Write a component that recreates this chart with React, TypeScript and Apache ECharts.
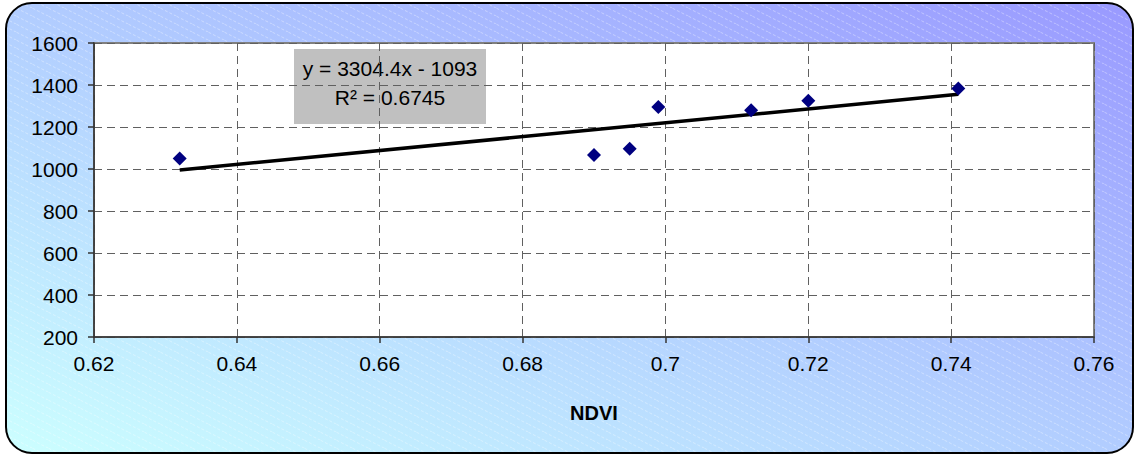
import React, { useEffect, useRef } from "react";
import * as echarts from "echarts";

// NDVI against yield, with the fitted linear trend
const NDVI = [0.632, 0.69, 0.695, 0.699, 0.712, 0.72, 0.741];
const VALUES = [1050, 1067, 1097, 1295, 1280, 1325, 1383];

// Linear fit reported on the chart
const SLOPE = 3304.4;
const INTERCEPT = -1093;
const R_SQUARED = 0.6745;

const X_MIN = 0.62;
const X_MAX = 0.76;
const X_STEP = 0.02;
const Y_MIN = 200;
const Y_MAX = 1600;
const Y_STEP = 200;

const FONT = "'Liberation Sans', Arial, sans-serif";

// faint white diagonal dashes tiled over the chart background
const STRIPE_TILE =
  "data:image/svg+xml;utf8," +
  encodeURIComponent(
    "<svg xmlns='http://www.w3.org/2000/svg' width='16' height='8'>" +
      "<path d='M-4 -2 L20 10 M-4 6 L4 10 M12 -2 L20 2' stroke='#ffffff' stroke-opacity='0.35' stroke-width='1' stroke-dasharray='3 2' fill='none'/>" +
      "</svg>"
  );

export default function App() {
  const ref = useRef<HTMLDivElement>(null);

  useEffect(() => {
    document.body.style.margin = "0";
    if (!ref.current) return;
    const chart = echarts.init(ref.current, null, { renderer: "svg" });

    const xs = [Math.min(...NDVI), Math.max(...NDVI)];
    const trend = xs.map((x) => [x, SLOPE * x + INTERCEPT]);
    const points = NDVI.map((x, i) => [x, VALUES[i]]);

    const eqText = `y = ${SLOPE}x ${INTERCEPT < 0 ? "-" : "+"} ${Math.abs(INTERCEPT)}`;
    const r2Text = `R\u00B2 = ${R_SQUARED}`;

    chart.setOption({
      animation: false,
      backgroundColor: "transparent",
      textStyle: { fontFamily: FONT },
      grid: {
        left: 94,
        top: 43,
        right: 41,
        bottom: 118,
        show: true,
        backgroundColor: "#ffffff",
        borderColor: "#808080",
        borderWidth: 2,
      },
      graphic: [
        {
          type: "rect",
          z: -10,
          shape: { x: 6, y: 3, width: 1127, height: 450, r: 26 },
          style: {
            fill: new echarts.graphic.LinearGradient(0, 1, 1, 0, [
              { offset: 0, color: "#ccffff" },
              { offset: 0.45, color: "#b4d2ff" },
              { offset: 1, color: "#9999ff" },
            ]),
          },
        },
        {
          type: "rect",
          z: -9,
          shape: { x: 6, y: 3, width: 1127, height: 450, r: 26 },
          style: {
            fill: {
              image: STRIPE_TILE,
              repeat: "repeat",
              imageWidth: 16,
              imageHeight: 8,
            } as any,
            stroke: "#000000",
            lineWidth: 2,
          },
        },
        {
          type: "group",
          z: 100,
          children: [
            {
              type: "rect",
              shape: { x: 294, y: 49, width: 192, height: 75 },
              style: { fill: "#c0c0c0" },
            },
            {
              type: "text",
              x: 390,
              y: 68,
              style: {
                text: eqText,
                fontSize: 21,
                fontFamily: FONT,
                fill: "#000000",
                align: "center",
                verticalAlign: "middle",
              },
            },
            {
              type: "text",
              x: 390,
              y: 97,
              style: {
                text: r2Text,
                fontSize: 21,
                fontFamily: FONT,
                fill: "#000000",
                align: "center",
                verticalAlign: "middle",
              },
            },
          ],
        },
      ],
      xAxis: {
        type: "value",
        min: X_MIN,
        max: X_MAX,
        interval: X_STEP,
        name: "NDVI",
        nameLocation: "middle",
        nameGap: 66,
        nameTextStyle: {
          fontSize: 20,
          fontWeight: "bold",
          color: "#000000",
          fontFamily: FONT,
        },
        axisLine: { show: true, onZero: false, lineStyle: { color: "#333333", width: 1.5 } },
        axisTick: { show: true, inside: false, length: 6, lineStyle: { color: "#333333", width: 1.5 } },
        axisLabel: {
          fontSize: 21,
          color: "#000000",
          margin: 16,
          fontFamily: FONT,
          formatter: (v: number) => String(parseFloat(v.toFixed(4))),
        },
        splitLine: {
          show: true,
          lineStyle: { color: "#606060", type: [8, 5], width: 1 },
        },
      },
      yAxis: {
        type: "value",
        min: Y_MIN,
        max: Y_MAX,
        interval: Y_STEP,
        axisLine: { show: true, onZero: false, lineStyle: { color: "#333333", width: 1.5 } },
        axisTick: { show: true, inside: false, length: 6, lineStyle: { color: "#333333", width: 1.5 } },
        axisLabel: {
          fontSize: 21,
          color: "#000000",
          margin: 16,
          fontFamily: FONT,
          formatter: (v: number) => String(v),
        },
        splitLine: {
          show: true,
          lineStyle: { color: "#606060", type: [8, 5], width: 1 },
        },
      },
      series: [
        {
          name: "Linear trend",
          type: "line",
          data: trend,
          symbol: "none",
          lineStyle: { color: "#000000", width: 3.5 },
          z: 2,
        },
        {
          name: "Yield",
          type: "scatter",
          data: points,
          symbol: "diamond",
          symbolSize: [14, 14],
          itemStyle: { color: "#000080", opacity: 1 },
          z: 3,
        },
      ],
    });

    return () => chart.dispose();
  }, []);

  return <div ref={ref} style={{ width: 1135, height: 455 }} />;
}
